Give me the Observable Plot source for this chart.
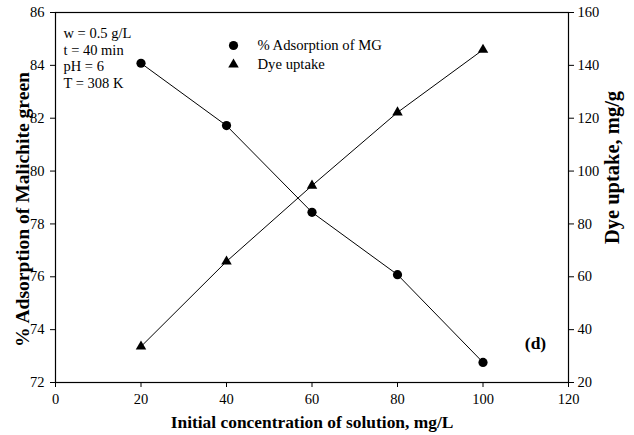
<!DOCTYPE html>
<html>
<head>
<meta charset="utf-8">
<script src="https://cdn.jsdelivr.net/npm/d3@7"></script>
<script src="https://cdn.jsdelivr.net/npm/@observablehq/plot@0.6"></script>
<style>
  body { margin: 0; background: #fff; }
  #chart svg { font-family: "Liberation Serif", "Times New Roman", serif; }
</style>
</head>
<body>
<div id="chart"></div>
<script>
const conc = [20, 40, 60, 80, 100];
const adsorption = [84.08, 81.72, 78.44, 76.08, 72.76];
const uptake = [33.6, 65.8, 94.5, 122.2, 145.9];
const xTicks = [0, 20, 40, 60, 80, 100, 120];
const leftTicks = [72, 74, 76, 78, 80, 82, 84, 86];
const rightTicks = [20, 40, 60, 80, 100, 120, 140, 160];
const leftDomain = [72, 86];
const rightDomain = [20, 160];
const conditions = ["w = 0.5 g/L", "t = 40 min", "pH = 6", "T = 308 K"];
const seriesNames = ["% Adsorption of MG", "Dye uptake"];
const xTitle = "Initial concentration of solution, mg/L";
const yLeftTitle = "% Adsorption of Malichite green";
const yRightTitle = "Dye uptake, mg/g";
const panelLabel = "(d)";

// map right-axis values onto left scale
const toLeft = v => leftDomain[0] + (v - rightDomain[0]) * (leftDomain[1] - leftDomain[0]) / (rightDomain[1] - rightDomain[0]);
const toRight = v => rightDomain[0] + (v - leftDomain[0]) * (rightDomain[1] - rightDomain[0]) / (leftDomain[1] - leftDomain[0]);

const adsData = conc.map((c, i) => ({x: c, y: adsorption[i]}));
const uptData = conc.map((c, i) => ({x: c, y: toLeft(uptake[i])}));

const chart = Plot.plot({
  width: 634,
  height: 435,
  marginLeft: 55,
  marginRight: 66,
  marginTop: 12,
  marginBottom: 53,
  style: {fontFamily: "Liberation Serif, serif", fontSize: "14px", color: "#000", background: "#fff", overflow: "visible"},
  x: {domain: [0, 120]},
  y: {domain: leftDomain},
  marks: [
    Plot.axisX({ticks: xTicks, tickSize: 5, tickPadding: 6, label: null, fontSize: 14.5}),
    Plot.axisY({ticks: leftTicks, tickSize: 5, tickPadding: 6, label: null, fontSize: 14.5}),
    Plot.axisY({anchor: "right", ticks: rightTicks.map(toLeft), tickFormat: d => Math.round(toRight(d)), tickSize: 5, tickPadding: 4, label: null, fontSize: 14.5}),
    Plot.frame({stroke: "#000", strokeWidth: 1.2}),
    Plot.line(adsData, {x: "x", y: "y", stroke: "#000", strokeWidth: 1}),
    Plot.line(uptData, {x: "x", y: "y", stroke: "#000", strokeWidth: 1}),
    Plot.dot(adsData, {x: "x", y: "y", r: 4.6, fill: "#000", stroke: "none", symbol: "circle"}),
    Plot.dot(uptData, {x: "x", y: "y", r: 3.9, fill: "#000", stroke: "none", symbol: "triangle"}),
    // legend
    Plot.dot([seriesNames[0]], {frameAnchor: "top-left", dx: 178, dy: 33, r: 4.6, fill: "#000", symbol: "circle"}),
    Plot.dot([seriesNames[1]], {frameAnchor: "top-left", dx: 178, dy: 52, r: 3.9, fill: "#000", symbol: "triangle"}),
    Plot.text([seriesNames[0]], {text: d => d, frameAnchor: "top-left", dx: 202, dy: 33, textAnchor: "start", lineAnchor: "middle", fontSize: 14.7, fill: "#000"}),
    Plot.text([seriesNames[1]], {text: d => d, frameAnchor: "top-left", dx: 202, dy: 52, textAnchor: "start", lineAnchor: "middle", fontSize: 14.7, fill: "#000"}),
    // conditions annotation
    Plot.text([conditions.join("\n")], {text: d => d, frameAnchor: "top-left", dx: 8, dy: 13, textAnchor: "start", lineAnchor: "top", lineHeight: 1.17, fontSize: 14.5, fill: "#000"}),
    // panel label
    Plot.text([panelLabel], {text: d => d, frameAnchor: "bottom-right", dx: -33, dy: -39, textAnchor: "middle", lineAnchor: "middle", fontWeight: "bold", fontSize: 17.5, fill: "#000"}),
    // axis titles
    Plot.text([xTitle], {text: d => d, frameAnchor: "bottom", dy: 40, textAnchor: "middle", lineAnchor: "middle", fontWeight: "bold", fontSize: 17.4, fill: "#000"}),
    Plot.text([yLeftTitle], {text: d => d, frameAnchor: "left", dx: -33, dy: 12, rotate: -90, textAnchor: "middle", lineAnchor: "middle", fontWeight: "bold", fontSize: 19.6, fill: "#000"}),
    Plot.text([yRightTitle], {text: d => d, frameAnchor: "right", dx: 44, dy: -30, rotate: -90, textAnchor: "middle", lineAnchor: "middle", fontWeight: "bold", fontSize: 20.5, fill: "#000"})
  ]
});
document.getElementById("chart").appendChild(chart);
</script>
</body>
</html>
